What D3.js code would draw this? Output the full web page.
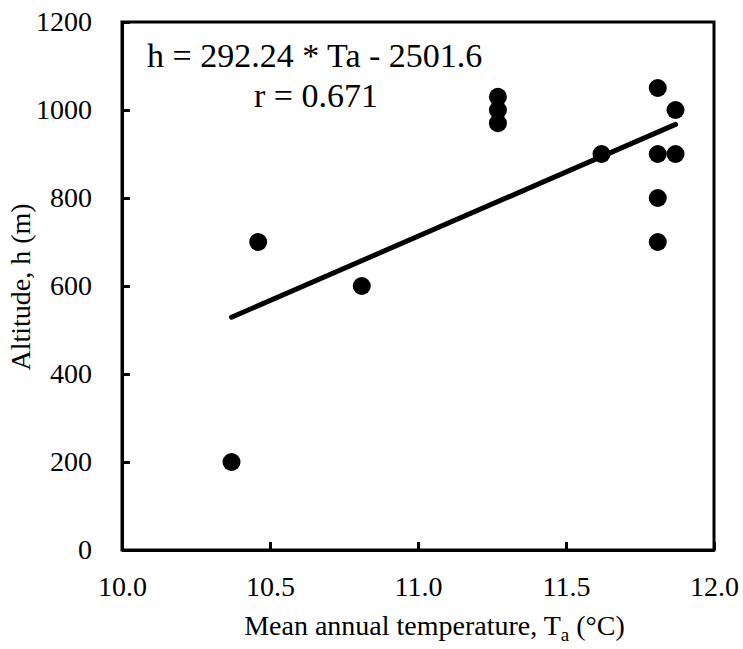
<!DOCTYPE html>
<html>
<head>
<meta charset="utf-8">
<script src="https://cdn.jsdelivr.net/npm/d3@7"></script>
</head>
<body style="margin:0;padding:0;background:#fff">
<svg id="chart" width="743" height="649" style="display:block"></svg>
<script>
// Data
const temperature = [10.37, 10.46, 10.81, 11.27, 11.27, 11.27, 11.62, 11.81, 11.81, 11.81, 11.81, 11.87, 11.87];
const altitude    = [200,   700,   600,   1030,  1000,  970,   900,   1050,  900,   800,   700,   1000,  900];
const xTicks = [10.0, 10.5, 11.0, 11.5, 12.0];
const yTicks = [0, 200, 400, 600, 800, 1000, 1200];
const slope = 292.24, intercept = -2501.6;
const fitRange = [10.37, 11.87];
const equationText = "h = 292.24 * Ta - 2501.6";
const rText = "r = 0.671";

const FONT = '"Liberation Serif", "Times New Roman", Tinos, Times';
const svg = d3.select("#chart");
const L = 122, R = 714, T = 22, B = 550;

const x = d3.scaleLinear().domain([10, 12]).range([L, R]);
const y = d3.scaleLinear().domain([0, 1200]).range([B, T]);

// frame
svg.append("rect").attr("x", L).attr("y", T).attr("width", R - L).attr("height", B - T)
  .attr("fill", "none").attr("stroke", "#000").attr("stroke-width", 3);

// axes
const yAxis = d3.axisLeft(y).tickValues(yTicks).tickFormat(d3.format("d"))
  .tickSizeInner(-8).tickSizeOuter(0).tickPadding(30);
const gy = svg.append("g").attr("transform", `translate(${L},0)`).call(yAxis);
gy.select(".domain").attr("stroke-width", 3);
gy.selectAll(".tick line").attr("stroke-width", 3);
gy.selectAll(".tick text").attr("fill", "#000")
  .style("font-family", FONT).style("font-size", "28px");

const xAxis = d3.axisBottom(x).tickValues(xTicks).tickFormat(d3.format(".1f"))
  .tickSizeInner(-8).tickSizeOuter(0).tickPadding(26);
const gx = svg.append("g").attr("transform", `translate(0,${B})`).call(xAxis);
gx.select(".domain").attr("stroke-width", 3);
gx.selectAll(".tick line").attr("stroke-width", 3);
gx.selectAll(".tick text").attr("fill", "#000")
  .style("font-family", FONT).style("font-size", "28px");

// trend line
const fit = fitRange.map(t => [t, slope * t + intercept]);
svg.append("path")
  .attr("d", d3.line().x(d => x(d[0])).y(d => y(d[1]))(fit))
  .attr("stroke", "#000").attr("stroke-width", 5).attr("stroke-linecap", "round").attr("fill", "none");

// points
svg.append("g").selectAll("circle")
  .data(temperature.map((t, i) => [t, altitude[i]]))
  .join("circle")
  .attr("cx", d => x(d[0])).attr("cy", d => y(d[1])).attr("r", 9).attr("fill", "#000");

// equation
svg.append("text").attr("x", 147).attr("y", 67)
  .style("font-family", FONT).style("font-size", "34px").text(equationText);
svg.append("text").attr("x", 254).attr("y", 107)
  .style("font-family", FONT).style("font-size", "34px").text(rText);

// axis titles
const xt = svg.append("text").attr("x", (242 + 627) / 2).attr("y", 635)
  .attr("text-anchor", "middle").style("font-family", FONT).style("font-size", "28px");
xt.append("tspan").text("Mean annual temperature, T");
xt.append("tspan").style("font-size", "19px").attr("dy", 6).text("a");
xt.append("tspan").attr("dy", -6).text(" (°C)");

svg.append("text").attr("transform", "translate(30,287) rotate(-90)")
  .attr("text-anchor", "middle").style("font-family", FONT).style("font-size", "28px")
  .text("Altitude, h (m)");
</script>
</body>
</html>
